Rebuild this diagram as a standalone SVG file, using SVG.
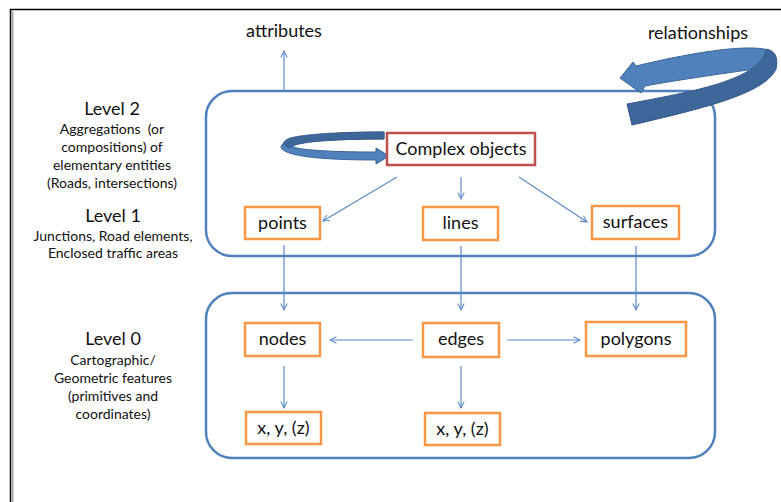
<svg xmlns="http://www.w3.org/2000/svg" width="781" height="502" viewBox="0 0 781 502">
  <defs>
    <style>
      text { font-family: Lato, "Liberation Sans", sans-serif; fill: #111; text-anchor: middle; white-space: pre; }
      .big { font-size: 18px; }
      .small { font-size: 14px; }
      .level { fill: none; stroke: #4F81BD; stroke-width: 2.5; }
      .geom { fill: #fff; stroke: #F79646; stroke-width: 2.5; }
      .complex { fill: #fff; stroke: #C0504D; stroke-width: 2.5; }
      .conn { fill: none; stroke: #5B8AC6; stroke-width: 1.2; marker-end: url(#open); }
    </style>
    <marker id="open" viewBox="0 0 10 10" refX="9" refY="5" markerWidth="8" markerHeight="8" markerUnits="userSpaceOnUse" orient="auto">
      <path d="M1,1 L9,5 L1,9" fill="none" stroke="#5B8AC6" stroke-width="1.3"/>
    </marker>
  </defs>

  <!-- page frame -->
  <g id="frame" fill="none">
    <path d="M10.5,502 V9.5 H781" stroke="#000" stroke-width="1.5"/>
    <path d="M12.8,11 V502" stroke="#777" stroke-width="1"/>
  </g>

  <!-- level containers -->
  <g id="level12-box"><rect class="level" x="206" y="91" width="509" height="165" rx="26"/></g>
  <g id="level0-box"><rect class="level" x="206" y="293" width="509" height="165" rx="26"/></g>

  <!-- side captions -->
  <g id="level2-caption">
    <text class="big" x="112" y="115">Level 2</text>
    <text class="small" x="112" y="134" xml:space="preserve">Aggregations  (or</text>
    <text class="small" x="112" y="152">compositions) of</text>
    <text class="small" x="112" y="170">elementary entities</text>
    <text class="small" x="112" y="188">(Roads, intersections)</text>
  </g>
  <g id="level1-caption">
    <text class="big" x="113" y="222">Level 1</text>
    <text class="small" x="113" y="241">Junctions, Road elements,</text>
    <text class="small" x="113" y="258">Enclosed traffic areas</text>
  </g>
  <g id="level0-caption">
    <text class="big" x="113" y="345">Level 0</text>
    <text class="small" x="113" y="365">Cartographic/</text>
    <text class="small" x="113" y="383">Geometric features</text>
    <text class="small" x="113" y="401">(primitives and</text>
    <text class="small" x="113" y="419">coordinates)</text>
  </g>

  <!-- connectors -->
  <g id="connectors">
    <path class="conn" d="M284,91 V51"/>
    <path class="conn" d="M397,177 L323,221"/>
    <path class="conn" d="M461,177 V199"/>
    <path class="conn" d="M519,177 L587,222"/>
    <path class="conn" d="M284,245 V310"/>
    <path class="conn" d="M461,246 V310"/>
    <path class="conn" d="M636,246 V310"/>
    <path class="conn" d="M413,340 H330"/>
    <path class="conn" d="M507,340 H580"/>
    <path class="conn" d="M284,366 V408"/>
    <path class="conn" d="M461,366 V408"/>
  </g>

  <!-- labels outside the containers -->
  <g id="attributes"><text class="big" x="284" y="37">attributes</text></g>
  <g id="relationships">
    <text class="big" x="698" y="39">relationships</text>
    <!-- curved block arrow: back (light) band, then front (dark) band -->
    <path d="M636,66 C690,53 740,45 764,49 C772,51 775,58 773,66 C752,70 700,76 645,86 L641,93 L620,78 L633,62 Z" fill="#4F81BD" stroke="#3A6496" stroke-width="1"/>
    <path d="M766,49 C777,51 778,60 776,69 C765,94 700,109 632,125 L627,104 C690,92 762,80 766,49 Z" fill="#3E6699" stroke="#35598A" stroke-width="1"/>
  </g>

  <!-- self loop on complex objects -->
  <g id="complex-loop">
    <path d="M384,132 L384,139 C340,139 296,141 292,146 C296,150 330,152 376,152 L376,148 L389,156 L376,164 L376,160 C320,160 283,156 281,147 C281,137 330,132 384,132 Z" fill="#4F81BD" stroke="#3A6496" stroke-width="1"/>
    <path d="M384,132 L384,139 C340,139 296,141 290,148 C283,146 280,142 290,138 C310,133 350,132 384,132 Z" fill="#3E6699" stroke="#35598A" stroke-width="0.8"/>
  </g>

  <!-- level 2 -->
  <g id="complex-objects">
    <rect class="complex" x="387" y="133" width="148" height="32"/>
    <text class="big" x="461" y="155">Complex objects</text>
  </g>

  <!-- level 1 -->
  <g id="points">
    <rect class="geom" x="245" y="207" width="75" height="32"/>
    <text class="big" x="282.5" y="229">points</text>
  </g>
  <g id="lines">
    <rect class="geom" x="423" y="207" width="75" height="33"/>
    <text class="big" x="460.5" y="229">lines</text>
  </g>
  <g id="surfaces">
    <rect class="geom" x="592" y="206" width="87" height="33"/>
    <text class="big" x="635.5" y="228">surfaces</text>
  </g>

  <!-- level 0 -->
  <g id="nodes">
    <rect class="geom" x="245" y="323" width="75" height="33"/>
    <text class="big" x="282.5" y="345">nodes</text>
  </g>
  <g id="edges">
    <rect class="geom" x="423" y="323" width="76" height="34"/>
    <text class="big" x="461" y="345">edges</text>
  </g>
  <g id="polygons">
    <rect class="geom" x="586" y="322" width="100" height="34"/>
    <text class="big" x="636" y="345">polygons</text>
  </g>
  <g id="coords-nodes">
    <rect class="geom" x="246" y="412" width="75" height="32"/>
    <text class="big" x="283.5" y="434">x, y, (z)</text>
  </g>
  <g id="coords-edges">
    <rect class="geom" x="425" y="413" width="75" height="32"/>
    <text class="big" x="462.5" y="435">x, y, (z)</text>
  </g>
</svg>
